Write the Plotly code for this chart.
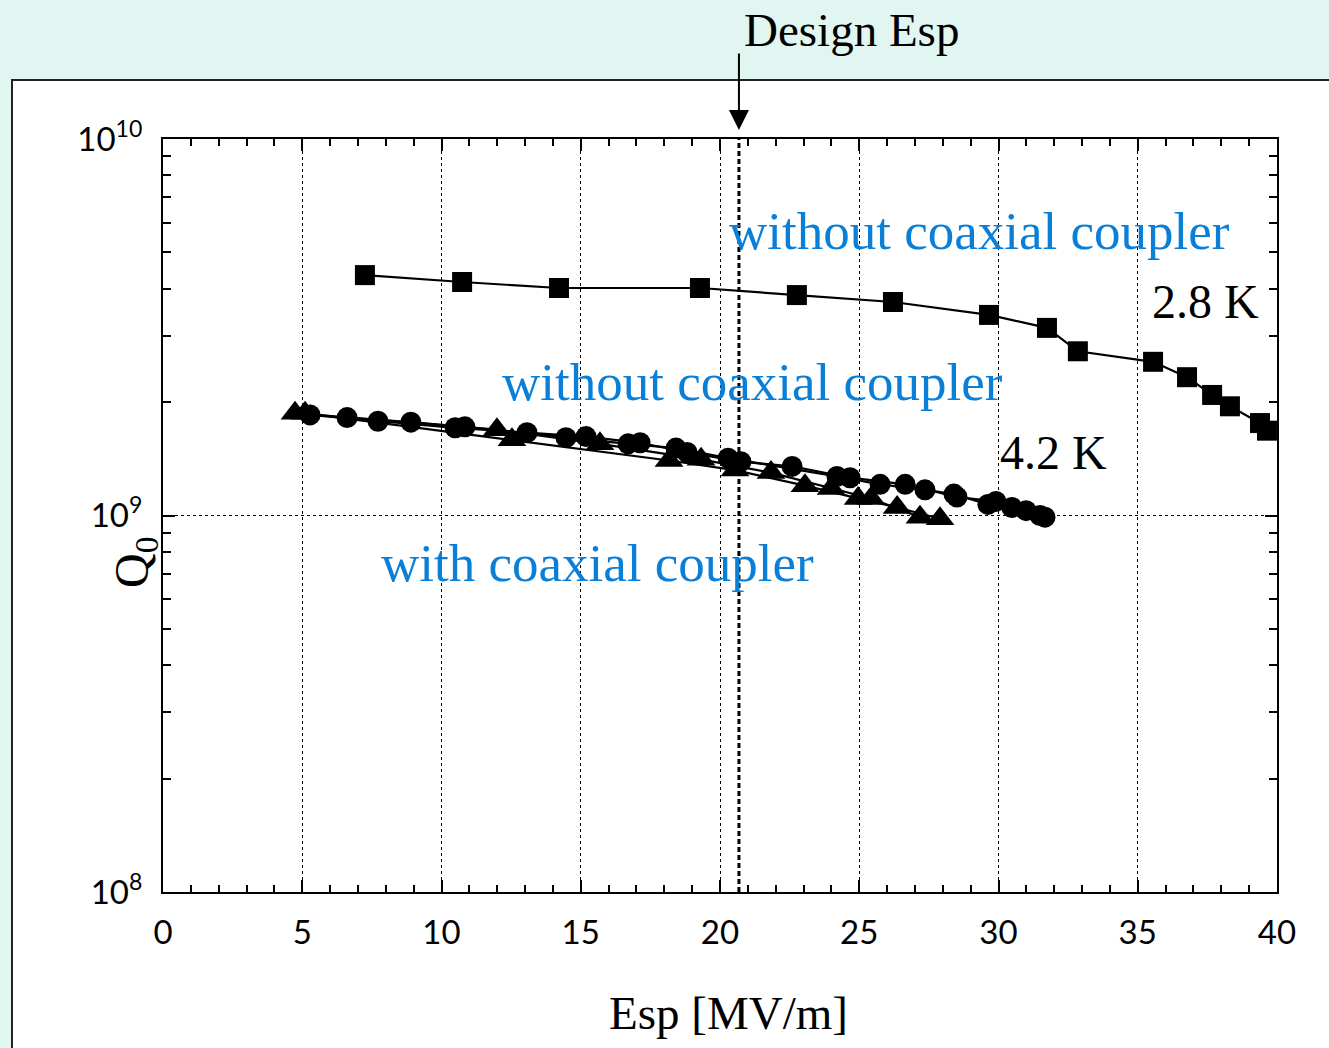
import plotly.graph_objects as go

# ---------------- data ----------------
sq_E = [7.25, 10.74, 14.22, 19.28, 22.76, 26.21, 29.66, 31.74, 32.85, 35.55, 36.77, 37.67, 38.31, 39.39, 39.64]
sq_Q = [4.35e9, 4.17e9, 4.02e9, 4.02e9, 3.85e9, 3.69e9, 3.41e9, 3.15e9, 2.73e9, 2.56e9, 2.33e9, 2.09e9, 1.95e9, 1.76e9, 1.68e9]

circA_E = [5.28, 7.72, 10.49, 13.07, 15.19, 17.13, 18.82, 20.75, 22.59, 24.67, 26.65, 28.51, 29.91, 30.99, 31.67]
circA_Q = [1.85e9, 1.78e9, 1.71e9, 1.66e9, 1.62e9, 1.56e9, 1.47e9, 1.39e9, 1.35e9, 1.26e9, 1.21e9, 1.12e9, 1.09e9, 1.03e9, 0.99e9]
circB_E = [6.61, 8.90, 10.84, 14.47, 16.70, 18.42, 20.29, 24.20, 25.75, 27.36, 28.40, 29.62, 30.48, 31.49]
circB_Q = [1.82e9, 1.77e9, 1.72e9, 1.61e9, 1.55e9, 1.51e9, 1.42e9, 1.27e9, 1.21e9, 1.17e9, 1.14e9, 1.07e9, 1.05e9, 1.00e9]

triA_E = [4.74, 11.99, 15.69, 19.32, 21.83, 23.99, 25.42, 27.18]
triA_Q = [1.87e9, 1.69e9, 1.55e9, 1.41e9, 1.30e9, 1.18e9, 1.11e9, 0.99e9]
triB_E = [5.10, 12.53, 18.17, 20.54, 23.05, 24.96, 26.36, 27.90]
triB_Q = [1.87e9, 1.59e9, 1.40e9, 1.32e9, 1.20e9, 1.11e9, 1.05e9, 0.98e9]

design_Esp = 20.68

x_ticks = [0, 5, 10, 15, 20, 25, 30, 35, 40]
y_ticks = [1e8, 1e9, 1e10]
y_ticktext = ["10<sup>8</sup>", "10<sup>9</sup>", "10<sup>10</sup>"]
y_minor = [m * 10 ** e for e in (8, 9) for m in range(2, 10)]

# ---------------- layout geometry ----------------
W, H = 1329, 1048
L, R, T, B = 163, 1277, 139, 892


def px(xp):
    return (xp - L) / (R - L)


def py(yp):
    return (B - yp) / (B - T)


BLUE = "#0a7fd8"
SERIF = "Liberation Serif, Times New Roman, serif"
SANS = "Lato, DejaVu Sans, sans-serif"

fig = go.Figure()

# design line
fig.add_trace(go.Scatter(x=[design_Esp, design_Esp], y=[1e8, 1e10], mode="lines",
                         line=dict(color="black", width=3, dash="5px,3px"),
                         showlegend=False, hoverinfo="skip"))

for xs, ys in [(triA_E, triA_Q), (triB_E, triB_Q)]:
    fig.add_trace(go.Scatter(x=xs, y=ys, mode="lines+markers",
                             line=dict(color="black", width=2.2),
                             marker=dict(symbol="triangle-up", size=25, color="black"),
                             showlegend=False))
for xs, ys in [(circA_E, circA_Q), (circB_E, circB_Q)]:
    fig.add_trace(go.Scatter(x=xs, y=ys, mode="lines+markers",
                             line=dict(color="black", width=2.2),
                             marker=dict(symbol="circle", size=21, color="black"),
                             showlegend=False))
fig.add_trace(go.Scatter(x=sq_E, y=sq_Q, mode="lines+markers",
                         line=dict(color="black", width=2.2),
                         marker=dict(symbol="square", size=20, color="black"),
                         showlegend=False))

fig.update_layout(
    width=W, height=H,
    margin=dict(l=L, r=W - R, t=T, b=H - B),
    paper_bgcolor="#e1f6f1",
    plot_bgcolor="white",
    showlegend=False,
)

fig.update_xaxes(
    range=[0, 40], tickmode="array", tickvals=x_ticks,
    ticks="inside", ticklen=12, tickwidth=2, tickcolor="black",
    showline=True, linewidth=2, linecolor="black", mirror="ticks",
    showgrid=True, gridcolor="black", gridwidth=1, griddash="dot",
    zeroline=False,
    tickfont=dict(family=SANS, size=33, color="black"),
    ticklabelstandoff=10,
    minor=dict(dtick=1, ticks="inside", ticklen=7, tickwidth=2, tickcolor="black", showgrid=False),
)
fig.update_yaxes(
    type="log", range=[8, 10], tickmode="array", tickvals=y_ticks, ticktext=y_ticktext,
    ticks="inside", ticklen=12, tickwidth=2, tickcolor="black",
    showline=True, linewidth=2, linecolor="black", mirror="ticks",
    showgrid=True, gridcolor="black", gridwidth=1, griddash="dot",
    zeroline=False,
    tickfont=dict(family=SANS, size=33, color="black"),
    ticklabelstandoff=12,
    minor=dict(tickmode="array", tickvals=y_minor, ticks="inside", ticklen=8, tickwidth=2,
               tickcolor="black", showgrid=False),
)

# white panel with border
fig.add_shape(type="rect", xref="paper", yref="paper",
              x0=px(12), x1=px(1400), y0=py(1100), y1=py(80),
              fillcolor="white", line=dict(color="#222", width=2), layer="below")

ann = []


def text(s, xp, yp, size, color="black", xanchor="left", family=SERIF, angle=0):
    ann.append(dict(text=s, xref="paper", yref="paper", x=px(xp), y=py(yp),
                    xanchor=xanchor, yanchor="middle", showarrow=False, textangle=angle,
                    font=dict(family=family, size=size, color=color)))


text("without coaxial coupler", 727, 231, 53, BLUE)
text("without coaxial coupler", 500, 382, 53, BLUE)
text("with coaxial coupler", 379, 563, 53, BLUE)
text("2.8 K", 1150, 301, 48)
text("4.2 K", 998, 452, 48)
text("Design Esp", 742, 30, 47)
text("Esp [MV/m]", 728, 1013, 47, xanchor="center")
text("Q<sub>0</sub>", 135, 563, 48, xanchor="center", angle=-90)

ann.append(dict(text="", x=design_Esp, xref="x", y=py(130), yref="paper",
                showarrow=True, arrowhead=2, arrowsize=2, arrowwidth=2, arrowcolor="black",
                ax=0, ay=-78, axref="pixel", ayref="pixel"))

fig.update_layout(annotations=ann)

fig.write_html("out.html", config={"displayModeBar": False},
               post_script="document.body.style.margin='0';document.body.style.overflow='hidden';")
